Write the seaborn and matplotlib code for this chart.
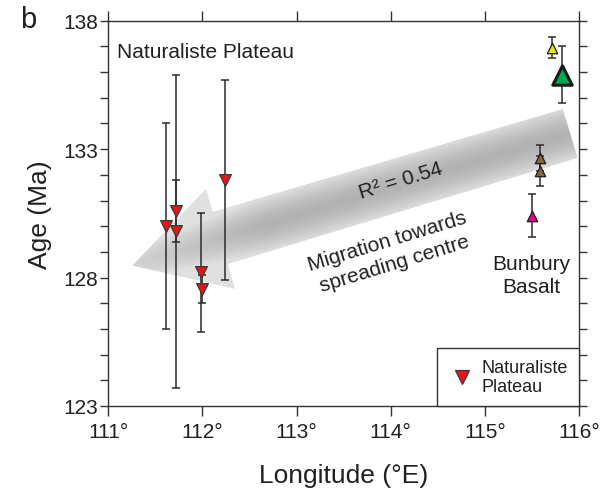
import numpy as np
import pandas as pd
import matplotlib
matplotlib.use("Agg")
import matplotlib.pyplot as plt
import seaborn as sns
from matplotlib.patches import Polygon
from matplotlib.lines import Line2D
from matplotlib.ticker import FixedLocator, MultipleLocator, FuncFormatter

# ---------------- data ----------------
np_lon = [111.61, 111.72, 111.72, 111.98, 112.00, 112.24]
np_age = [130.0, 130.6, 129.8, 128.2, 127.55, 131.8]
np_err = [4.0, 1.2, 6.1, 2.3, 0.55, 3.9]

bb_id = ["yellow", "green", "brown1", "brown2", "pink"]
bb_lon = [115.71, 115.82, 115.59, 115.59, 115.50]
bb_age = [136.95, 135.9, 132.65, 132.15, 130.4]
bb_err = [0.42, 1.1, 0.5, 0.6, 0.84]
bb_colors = ["#e6e619", "#00a651", "#8c6239", "#8c6239", "#ec008c"]
bb_msize = [7.5, 14, 7.5, 7.5, 7.5]

x_ticks = [111, 112, 113, 114, 115, 116]
y_ticks = [123, 128, 133, 138]

# arrow outline (lon, age)
arrow_lon = [115.827, 115.986, 112.271, 112.345, 111.255, 112.037, 112.111]
arrow_age = [134.56, 132.66, 128.53, 127.56, 128.47, 131.45, 130.56]

TXT = "#231f20"
AX = "#333333"

sns.set_theme(style="white")
plt.rcParams["font.family"] = ["Liberation Sans", "DejaVu Sans"]

fig = plt.figure(figsize=(6.14, 5.02), dpi=100)
ax = fig.add_axes([108.3 / 614, 1 - 407 / 502, (579 - 108.3) / 614, (407 - 21.7) / 502])
ax.set_xlim(111, 116)
ax.set_ylim(123, 138)

# ---------------- gradient arrow ----------------
poly = Polygon(np.column_stack([arrow_lon, arrow_age]), closed=True,
               facecolor="none", edgecolor="none", transform=ax.transData)
ax.add_patch(poly)
W, H = 480, 400
xs = np.linspace(111, 116, W)
ys = np.linspace(123, 138, H)
X, Y = np.meshgrid(xs, ys)
P = ax.transData.transform(np.column_stack([X.ravel(), Y.ravel()]))
tip = ax.transData.transform((arrow_lon[4], arrow_age[4]))
tail = (ax.transData.transform((arrow_lon[0], arrow_age[0])) +
        ax.transData.transform((arrow_lon[1], arrow_age[1]))) / 2
half = np.linalg.norm(ax.transData.transform((arrow_lon[0], arrow_age[0])) -
                      ax.transData.transform((arrow_lon[1], arrow_age[1]))) / 2
v = tail - tip
L = np.linalg.norm(v)
u = v / L
rel = P - tip
t = (rel @ u) / L
d = np.abs(rel[:, 0] * u[1] - rel[:, 1] * u[0]) / half
g = 0.70 + 0.16 * np.clip(d, 0, 1) ** 1.6 + 0.12 * np.clip(1 - t / 0.3, 0, 1)
g = np.clip(g, 0, 0.88).reshape(H, W)
img = np.dstack([g, g, g, np.ones_like(g)])
im = ax.imshow(img, extent=[111, 116, 123, 138], origin="lower", aspect="auto",
               zorder=0.5, interpolation="bilinear")
im.set_clip_path(poly)

# ---------------- error bars & markers ----------------
ax.errorbar(np_lon, np_age, yerr=np_err, fmt="none", ecolor="#2b2b2b",
            elinewidth=1.1, capsize=2.6, capthick=1.1, zorder=2)
ax.errorbar(bb_lon, bb_age, yerr=bb_err, fmt="none", ecolor="#2b2b2b",
            elinewidth=1.1, capsize=2.6, capthick=1.1, zorder=2)

df_np = pd.DataFrame({"lon": np_lon, "age": np_age})
sns.scatterplot(data=df_np, x="lon", y="age", marker="v", s=8.5 ** 2,
                color="#e8141b", edgecolor="#3a3a3a", linewidth=0.9,
                ax=ax, zorder=3, legend=False)

df_bb = pd.DataFrame({"id": bb_id, "lon": bb_lon, "age": bb_age,
                      "ms": [m ** 2 for m in bb_msize]})
lw_map = {"green": 2.2}
for i, row in df_bb.iterrows():
    sns.scatterplot(data=df_bb.iloc[[i]], x="lon", y="age", marker="^",
                    s=row["ms"], color=bb_colors[i], edgecolor="#1a1a1a",
                    linewidth=lw_map.get(row["id"], 0.9), ax=ax, zorder=3,
                    legend=False)

# ---------------- texts ----------------
ax.text(111.093, 136.82, "Naturaliste Plateau", fontsize=15, color=TXT,
        ha="left", va="center")
ax.text(115.49, 128.1, "Bunbury\nBasalt", fontsize=15, color=TXT,
        ha="center", va="center", linespacing=1.3)
ax.text(114.11, 131.8, "R² = 0.54", fontsize=15, color=TXT, rotation=17,
        rotation_mode="anchor", ha="center", va="center")
ax.text(114.0, 129.0, "Migration towards\nspreading centre", fontsize=15,
        color=TXT, rotation=17, rotation_mode="anchor", ha="center",
        va="center", multialignment="center", linespacing=1.3)

# ---------------- legend ----------------
h = Line2D([], [], marker="v", linestyle="none", markersize=10,
           markerfacecolor="#e8141b", markeredgecolor="#3a3a3a",
           markeredgewidth=0.9)
leg = ax.legend([h], ["Naturaliste\nPlateau"], loc="lower right",
                borderaxespad=0, fontsize=13, frameon=True, fancybox=False,
                framealpha=1, edgecolor="#333333", borderpad=0.6,
                handletextpad=0.3, handlelength=1.6)
leg.get_frame().set_linewidth(1.0)
for tx in leg.get_texts():
    tx.set_color(TXT)

# ---------------- axes styling ----------------
for s in ax.spines.values():
    s.set_color(AX)
    s.set_linewidth(1.0)
    s.set_visible(True)
ax.xaxis.set_major_locator(FixedLocator(x_ticks))
ax.xaxis.set_major_formatter(FuncFormatter(lambda v, p: f"{v:g}°"))
ax.yaxis.set_major_locator(FixedLocator(y_ticks))
ax.yaxis.set_minor_locator(MultipleLocator(1))
ax.yaxis.set_major_formatter(FuncFormatter(lambda v, p: f"{v:g}"))
ax.tick_params(axis="x", which="major", direction="out", length=7.5, width=1.0,
               color=AX, labelsize=15, labelcolor=TXT, pad=4,
               top=True, bottom=True)
ax.tick_params(axis="y", which="both", direction="out", length=5.5, width=1.0,
               color=AX, labelsize=15, labelcolor=TXT, pad=2,
               left=True, right=True)
ax.set_xlabel("Longitude (°E)", fontsize=19, color=TXT, labelpad=16)
ax.set_ylabel("Age (Ma)", fontsize=19, color=TXT, labelpad=8)
ax.grid(False)

fig.text(20 / 614, 1 - 6 / 502, "b", fontsize=21, color=TXT, ha="left", va="top")

fig.savefig("out.png", dpi=100)
